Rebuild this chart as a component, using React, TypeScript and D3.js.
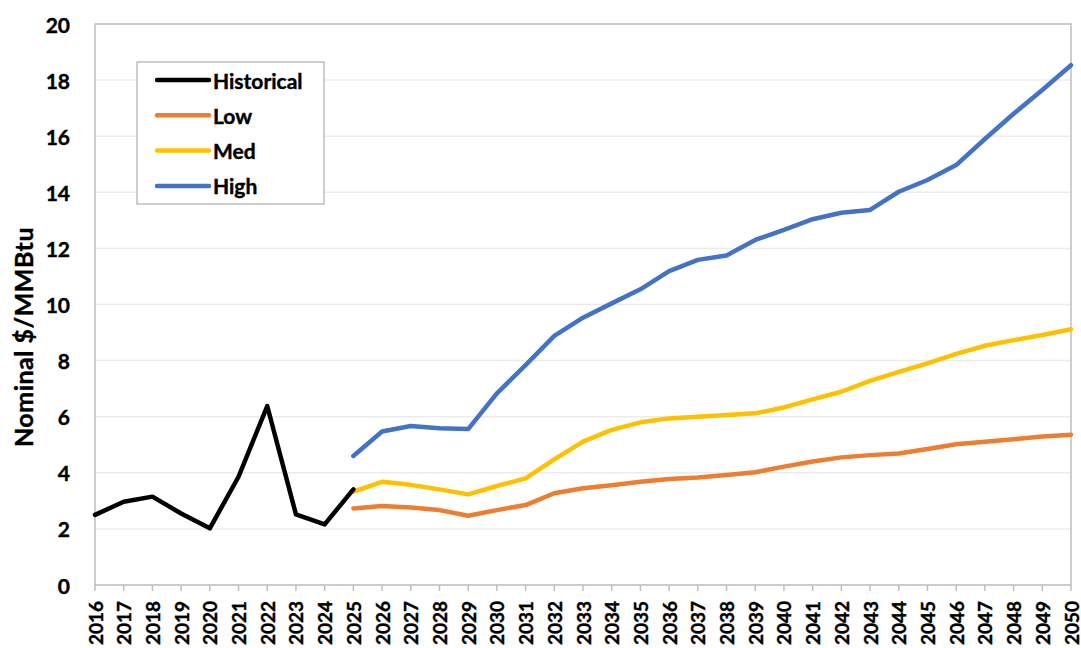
import React from "react";
import * as d3 from "d3";

const histYears = [2016, 2017, 2018, 2019, 2020, 2021, 2022, 2023, 2024, 2025];
const histValues = [2.5, 2.97, 3.15, 2.55, 2.02, 3.86, 6.38, 2.52, 2.16, 3.41];

const projYears = [2025, 2026, 2027, 2028, 2029, 2030, 2031, 2032, 2033, 2034, 2035, 2036, 2037, 2038, 2039, 2040, 2041, 2042, 2043, 2044, 2045, 2046, 2047, 2048, 2049, 2050];
const lowValues = [2.73, 2.82, 2.76, 2.67, 2.47, 2.67, 2.85, 3.27, 3.45, 3.56, 3.68, 3.78, 3.83, 3.92, 4.02, 4.22, 4.4, 4.55, 4.63, 4.69, 4.85, 5.02, 5.11, 5.2, 5.29, 5.36];
const medValues = [3.33, 3.68, 3.57, 3.41, 3.23, 3.53, 3.8, 4.48, 5.11, 5.53, 5.8, 5.94, 6.0, 6.06, 6.12, 6.33, 6.62, 6.89, 7.28, 7.6, 7.9, 8.24, 8.53, 8.73, 8.91, 9.12];
const highValues = [4.6, 5.47, 5.67, 5.59, 5.56, 6.83, 7.84, 8.88, 9.53, 10.04, 10.54, 11.19, 11.59, 11.75, 12.3, 12.66, 13.04, 13.27, 13.37, 14.02, 14.44, 14.97, 15.9, 16.8, 17.65, 18.53];

const yTicks = [0, 2, 4, 6, 8, 10, 12, 14, 16, 18, 20];
const allYears = d3.range(2016, 2051);

const seriesNames = ["Historical", "Low", "Med", "High"];
const seriesColors = ["#000000", "#ED7D31", "#FFC000", "#4472C4"];

const W = 1081;
const H = 648;
const FONT = "Lato, 'Open Sans', sans-serif";

export default function App() {
  const x = d3.scaleLinear().domain([2016, 2050]).range([95, 1071]);
  const y = d3.scaleLinear().domain([0, 20]).range([585, 24]);

  const line = d3
    .line<[number, number]>()
    .x((d) => x(d[0]))
    .y((d) => y(d[1]));

  const series: [number, number][][] = [
    histYears.map((yr, i) => [yr, histValues[i]]),
    projYears.map((yr, i) => [yr, lowValues[i]]),
    projYears.map((yr, i) => [yr, medValues[i]]),
    projYears.map((yr, i) => [yr, highValues[i]]),
  ];

  const drawOrder = [1, 2, 3, 0];

  return (
    <svg
      width={W}
      height={H}
      style={{ position: "absolute", left: 0, top: 0, background: "#fff" }}
      fontFamily={FONT}
    >
      <rect x={0} y={0} width={W} height={H} fill="#fff" />
      {yTicks.map((t) => (
        <line key={"g" + t} x1={x(2016)} x2={x(2050)} y1={y(t)} y2={y(t)} stroke="#ececec" strokeWidth={1.5} />
      ))}
      <rect x={x(2016)} y={y(20)} width={x(2050) - x(2016)} height={y(0) - y(20)} fill="none" stroke="#bfbfbf" strokeWidth={1.5} />
      {allYears.map((yr) => (
        <line key={"t" + yr} x1={x(yr)} x2={x(yr)} y1={y(0)} y2={y(0) + 6} stroke="#bfbfbf" strokeWidth={1.5} />
      ))}
      {yTicks.map((t) => (
        <text key={"yl" + t} x={70} y={y(t)} textAnchor="end" dominantBaseline="central" fontSize={21} fontWeight={700} fill="#000" stroke="#000" strokeWidth={0.4}>
          {t}
        </text>
      ))}
      {allYears.map((yr) => (
        <text
          key={"xl" + yr}
          transform={`translate(${x(yr)},${601}) rotate(-90)`}
          textAnchor="end"
          dominantBaseline="central"
          fontSize={19}
          fontWeight={700}
          fill="#000"
          stroke="#000"
          strokeWidth={0.4}
        >
          {yr}
        </text>
      ))}
      <text
        transform={`translate(23,${337}) rotate(-90)`}
        textAnchor="middle"
        dominantBaseline="central"
        fontSize={25}
        fontWeight={700}
        letterSpacing={0.5}
        fill="#000"
        stroke="#000"
        strokeWidth={0.4}
      >
        Nominal $/MMBtu
      </text>
      {drawOrder.map((i) => (
        <path
          key={"s" + i}
          d={line(series[i]) || ""}
          fill="none"
          stroke={seriesColors[i]}
          strokeWidth={4.5}
          strokeLinejoin="round"
          strokeLinecap="round"
        />
      ))}
      <rect x={137} y={62} width={187} height={142} fill="#fff" stroke="#bfbfbf" strokeWidth={1.5} />
      {seriesNames.map((name, i) => {
        const ly = 80 + i * 35.3;
        return (
          <g key={"lg" + name}>
            <line x1={157} x2={209} y1={ly} y2={ly} stroke={seriesColors[i]} strokeWidth={4.5} strokeLinecap="round" />
            <text x={213} y={ly} dominantBaseline="central" fontSize={21} fontWeight={700} fill="#000" stroke="#000" strokeWidth={0.4}>
              {name}
            </text>
          </g>
        );
      })}
    </svg>
  );
}
